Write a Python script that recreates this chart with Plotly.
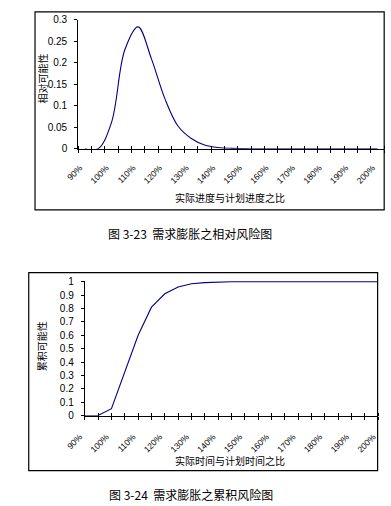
import plotly.graph_objects as go

# ---- data ----
categories = ["90%", "95%", "100%", "105%", "110%", "115%", "120%", "125%", "130%",
              "135%", "140%", "145%", "150%", "155%", "160%", "165%", "170%", "175%",
              "180%", "185%", "190%", "195%", "200%"]
relative = [0, 0, 0.061, 0.23, 0.284, 0.21, 0.118, 0.053, 0.024, 0.009, 0.003, 0.001,
            0.0005, 0, 0, 0, 0, 0, 0, 0, 0, 0, 0]
cumulative = [0, 0.002, 0.053, 0.33, 0.60, 0.81, 0.91, 0.96, 0.985, 0.993, 0.998, 1.0,
              1.0, 1.0, 1.0, 1.0, 1.0, 1.0, 1.0, 1.0, 1.0, 1.0, 1.0]
rel_ticks = [0, 0.05, 0.1, 0.15, 0.2, 0.25, 0.3]
rel_ticktext = ["0", "0.05", "0.1", "0.15", "0.2", "0.25", "0.3"]
cum_ticks = [0, 0.1, 0.2, 0.3, 0.4, 0.5, 0.6, 0.7, 0.8, 0.9, 1.0]
cum_ticktext = ["0", "0.1", "0.2", "0.3", "0.4", "0.5", "0.6", "0.7", "0.8", "0.9", "1"]
title1_x = "实际进度与计划进度之比"
title1_y = "相对可能性"
caption1 = "图 3-23  需求膨胀之相对风险图"
title2_x = "实际时间与计划时间之比"
title2_y = "累积可能性"
caption2 = "图 3-24  需求膨胀之累积风险图"

W, H = 391, 506
def px(x): return x / W
def py(y): return 1 - y / H

idx = list(range(len(categories)))
label_idx = idx[::2]
PAD = "\u00a0" * 3
label_txt = [c + PAD for c in categories[::2]]

NUM_FONT = dict(family="Liberation Sans, Arial", size=10, color="black")
XLAB_FONT = dict(family="Liberation Sans, Arial", size=8.5, color="black")
CJK = "Noto Sans CJK SC"
LINE = "#000080"

fig = go.Figure()
fig.add_trace(go.Scatter(x=idx, y=relative, mode="lines", xaxis="x", yaxis="y",
                         line=dict(color=LINE, width=1.1, shape="spline", smoothing=1),
                         showlegend=False, hoverinfo="skip"))
fig.add_trace(go.Scatter(x=idx, y=cumulative, mode="lines", xaxis="x2", yaxis="y2",
                         line=dict(color=LINE, width=1.1),
                         showlegend=False, hoverinfo="skip"))
# helper traces so overlay axes (inside half of crossing ticks) get drawn
fig.add_trace(go.Scatter(x=[None], y=[None], xaxis="x3", yaxis="y", showlegend=False, hoverinfo="skip"))
fig.add_trace(go.Scatter(x=[None], y=[None], xaxis="x4", yaxis="y2", showlegend=False, hoverinfo="skip"))

n = len(categories)
top_minor = [i - 0.5 for i in range(n + 1)]
bot_minor = list(range(n))

common_x = dict(showgrid=False, zeroline=False, fixedrange=True)

fig.update_layout(
    width=W, height=H, margin=dict(l=0, r=0, t=0, b=0),
    paper_bgcolor="white", plot_bgcolor="white", showlegend=False,
    xaxis=dict(domain=[px(62), px(388)], anchor="y", range=[-0.5, n - 0.5],
               tickmode="array", tickvals=label_idx, ticktext=label_txt, tickangle=-45,
               ticks="", showline=True, linecolor="black", linewidth=1,
               tickfont=XLAB_FONT, ticklabelstandoff=5,
               minor=dict(tickmode="array", tickvals=top_minor, ticks="outside",
                          ticklen=3, tickcolor="black", tickwidth=1), **common_x),
    xaxis3=dict(overlaying="x", anchor="y", range=[-0.5, n - 0.5], showticklabels=False,
                ticks="", showline=False,
                minor=dict(tickmode="array", tickvals=top_minor, ticks="inside",
                           ticklen=3, tickcolor="black", tickwidth=1), **common_x),
    yaxis=dict(domain=[py(146.7), py(15.3)], anchor="x", range=[0, 0.3],
               tickmode="array", tickvals=rel_ticks, ticktext=rel_ticktext,
               ticks="outside", ticklen=3, tickcolor="black", showline=True,
               linecolor="black", linewidth=1, showgrid=False, zeroline=False,
               tickfont=NUM_FONT, ticklabelstandoff=5, fixedrange=True),
    xaxis2=dict(domain=[px(69), px(381.7)], anchor="y2", range=[0, n - 1],
                tickmode="array", tickvals=label_idx, ticktext=label_txt, tickangle=-45,
                ticks="outside", ticklen=3, tickcolor="black", showline=True,
                linecolor="black", linewidth=1, tickfont=XLAB_FONT, ticklabelstandoff=4,
                minor=dict(tickmode="array", tickvals=bot_minor, ticks="outside",
                           ticklen=3, tickcolor="black", tickwidth=1), **common_x),
    xaxis4=dict(overlaying="x2", anchor="y2", range=[0, n - 1], showticklabels=False,
                ticks="", showline=False,
                minor=dict(tickmode="array", tickvals=bot_minor, ticks="inside",
                           ticklen=3, tickcolor="black", tickwidth=1), **common_x),
    yaxis2=dict(domain=[py(419), py(281.6)], anchor="x2", range=[0, 1.005],
                tickmode="array", tickvals=cum_ticks, ticktext=cum_ticktext,
                ticks="outside", ticklen=3, tickcolor="black", showline=True,
                linecolor="black", linewidth=1, showgrid=False, zeroline=False,
                tickfont=NUM_FONT, ticklabelstandoff=5, fixedrange=True),
)

# chart-area borders
fig.add_shape(type="rect", xref="paper", yref="paper", x0=px(16), x1=px(388),
              y0=py(209), y1=py(7), line=dict(color="black", width=1.2))
fig.add_shape(type="rect", xref="paper", yref="paper", x0=px(9.3), x1=px(381),
              y0=py(475), y1=py(273), line=dict(color="black", width=1.2))

def ann(text, x, y, size, angle=0):
    fig.add_annotation(text=text, xref="paper", yref="paper", x=px(x), y=py(y),
                       xanchor="center", yanchor="middle", showarrow=False,
                       textangle=angle, font=dict(family=CJK, size=size, color="black"))

ann(title1_x, 224, 196, 10)
ann(title1_y, 24.5, 75, 10, -90)
ann(caption1, 181, 233, 12)
ann(title2_x, 224, 465, 10)
ann(title2_y, 22.5, 348, 10, -90)
ann(caption2, 182, 499, 12)

fig.write_html("out.html", config={"displayModeBar": False, "staticPlot": True},
               post_script="document.body.style.margin='0';document.body.style.overflow='hidden';")
